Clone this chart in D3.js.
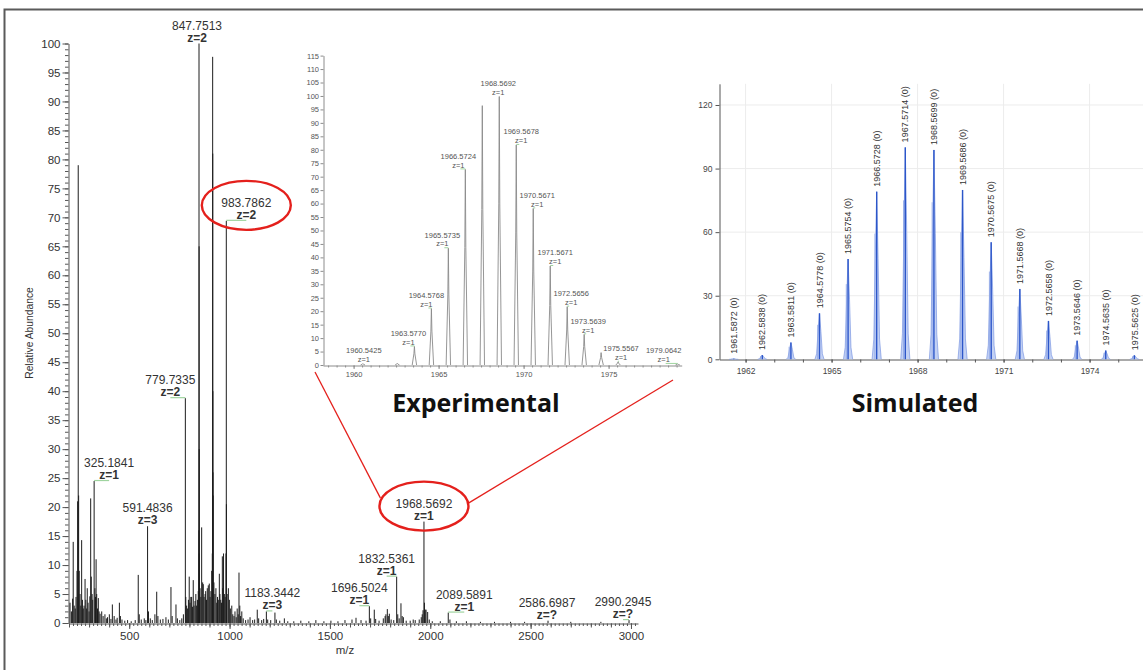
<!DOCTYPE html>
<html>
<head>
<meta charset="utf-8">
<script src="https://cdn.jsdelivr.net/npm/d3@7"></script>
<style>
  html, body { margin: 0; padding: 0; background: #fff; }
  svg { display: block; }
  text { font-family: "Liberation Sans", Arial, sans-serif; }
</style>
</head>
<body>
<svg id="fig" width="1143" height="670"></svg>
<script>
// ---------- Full-scan spectrum (m/z, relative abundance) ----------
const mainMz = [
  205, 212, 218, 221, 226, 231, 235, 240, 243, 246, 248, 251, 255, 259, 263, 267, 271, 275, 280, 284,
  288, 291, 295, 300, 304, 308, 311, 315, 318, 325.1841, 329, 332, 335, 338, 342, 346, 350, 355, 363, 370,
  379, 386, 392, 401, 409, 416, 425, 434, 440, 451, 456, 464,
  478, 492, 510, 530, 545, 550, 560, 575, 583, 591.4836, 596, 605, 615, 628, 637, 643, 655, 668,
  683, 695, 708, 714, 733, 740, 752, 762, 770,
  779.7335, 782, 786, 790, 795, 799, 803, 807, 811, 815, 819, 823, 828, 832, 836, 840, 844, 847.25, 847.7513, 848.25,
  848.75, 849.25, 853, 857, 861, 866, 869, 873, 878, 881, 885, 889, 894, 899, 903, 907, 911, 914, 915.8, 916.3,
  916.8, 917.3, 918, 922, 927, 932, 936, 940, 944, 949, 952, 956, 960, 964, 966, 970, 974, 978, 982.3, 983.7862,
  984.29, 984.8, 988, 994, 999, 1004, 1011, 1016, 1022, 1027, 1033, 1038, 1043, 1047, 1051, 1055, 1061, 1068, 1080, 1092,
  1102, 1115, 1125, 1138, 1145, 1160, 1170, 1183.3442, 1190, 1205, 1226, 1233, 1250, 1273, 1290,
  1320, 1355, 1395, 1430, 1470, 1505, 1540, 1575, 1610, 1630, 1655, 1680, 1696.5024, 1703, 1721, 1728, 1745, 1766, 1775, 1779,
  1786, 1791, 1796, 1805, 1818, 1832.5361, 1838, 1845, 1854, 1860, 1866, 1880, 1900, 1915, 1925, 1945, 1955, 1960, 1964, 1968.5692,
  1971, 1975, 1979, 1987, 1995, 2010, 2050, 2089.5891, 2098, 2130, 2180, 2250, 2320, 2400, 2470, 2586.6987, 2700, 2850, 2990.2945
];
const mainAbund = [
  3.5, 2, 4.2, 14, 3, 2.5, 4.5, 9, 21, 79, 22, 9, 5, 3, 14.3, 4, 2.5, 3, 7.6, 4,
  2.5, 6, 3.5, 2, 4.6, 21.5, 8, 5, 4, 24.5, 6, 4.5, 11, 5, 2.5, 4.3, 2, 1.6, 2, 1.2,
  1.5, 0.8, 1, 1.5, 0.7, 3.2, 1.2, 0.6, 0.9, 3.5, 1.2, 0.6,
  0.4, 0.5, 0.3, 0.5, 8.3, 1.5, 0.6, 0.8, 0.5, 16.7, 2, 0.8, 0.5, 1.5, 5.4, 1.2, 0.6, 0.7,
  1, 0.6, 6.2, 1.2, 3.2, 0.8, 0.5, 0.8, 1.5,
  38.8, 4.5, 3, 2.5, 4, 8, 3.5, 4.5, 4.5, 2.8, 7.4, 3, 3.8, 5, 3, 4, 5.5, 16, 100, 65,
  30, 12, 6, 4.5, 16.5, 7, 6.7, 4.5, 5, 5.5, 4, 6, 6.5, 6.8, 4.5, 5.5, 9, 12, 97.7, 81,
  40, 26, 22, 7, 5, 6, 3.5, 4.5, 4, 8.5, 5, 4, 3.5, 11.5, 6, 12, 5, 4.5, 12, 69.4,
  20.5, 9, 5, 6, 4, 2.5, 3, 1.5, 1.2, 2, 1, 2.5, 1.5, 8.7, 3, 1.2, 2, 0.8, 0.5, 0.6,
  1, 0.5, 0.6, 2.3, 0.8, 0.5, 0.7, 2, 0.6, 0.5, 1.8, 0.6, 0.4, 0.8, 0.3,
  0.3, 0.4, 0.3, 0.5, 0.3, 0.4, 0.3, 0.5, 0.6, 0.9, 0.5, 0.4, 2.9, 0.8, 2.3, 0.7, 0.4, 0.8, 1.2, 1.5,
  2.4, 1.2, 1.6, 0.6, 0.5, 8.0, 1.5, 0.8, 3.4, 1.2, 1.0, 0.4, 0.4, 0.6, 0.5, 0.6, 1.0, 1.5, 2.2, 17.5,
  3.5, 2.3, 2.3, 1.9, 0.6, 0.3, 0.3, 1.8, 0.6, 0.3, 0.3, 0.2, 0.2, 0.2, 0.2, 0.4, 0.2, 0.2, 0.5
];
// annotated peaks of the full scan
const mainLabelMz = [325.1841, 591.4836, 779.7335, 847.7513, 983.7862, 1183.3442, 1696.5024, 1832.5361, 1968.5692, 2089.5891, 2586.6987, 2990.2945];
const mainLabelZ  = ["z=1", "z=3", "z=2", "z=2", "z=2", "z=3", "z=1", "z=1", "z=1", "z=1", "z=?", "z=?"];
const mainCircled = [983.7862, 1968.5692];
const mainTicks = [500, 1000, 1500, 2000, 2500, 3000];

// ---------- Experimental isotope cluster ----------
const expMz  = [1960.5425, 1962.57, 1963.5770, 1964.5768, 1965.5735, 1966.5724, 1967.5705, 1968.5692, 1969.5678, 1970.5671, 1971.5671, 1972.5656, 1973.5639, 1974.56, 1975.5567, 1979.0642];
const expInt = [0.5, 0.6, 6.9, 21, 43.4, 72.7, 96.4, 99.8, 81.8, 58.2, 36.8, 21.7, 11.4, 4.6, 1.2, 0.4];
const expLabelMz = [1960.5425, 1963.5770, 1964.5768, 1965.5735, 1966.5724, 1968.5692, 1969.5678, 1970.5671, 1971.5671, 1972.5656, 1973.5639, 1975.5567, 1979.0642];
const expYTicks = d3.range(0, 116, 5);
const expXTicks = [1960, 1965, 1970, 1975];

// ---------- Simulated isotope pattern ----------
const simMz  = [1961.5872, 1962.5838, 1963.5811, 1964.5778, 1965.5754, 1966.5728, 1967.5714, 1968.5699, 1969.5686, 1970.5675, 1971.5668, 1972.5658, 1973.5646, 1974.5635, 1975.5625];
const simInt = [0.3, 2.0, 7.9, 21.7, 47.3, 79.1, 100, 98.8, 79.9, 55.2, 33.2, 18.1, 8.8, 4.1, 1.9];
const simYTicks = [0, 30, 60, 90, 120];
const simXTicks = [1962, 1965, 1968, 1971, 1974];

// ---------- layout ----------
const svg = d3.select("#fig");
svg.append("rect").attr("width", 1143).attr("height", 670).attr("fill", "#fff");

// outer frame
svg.append("path").attr("d", "M4.5,670 V9.5 H1143")
  .attr("fill", "none").attr("stroke", "#5a5a5a").attr("stroke-width", 2);

// ===== full scan =====
const x = d3.scaleLinear().domain([200, 3035]).range([69, 638]);
const y = d3.scaleLinear().domain([0, 100]).range([623, 43.5]);

const gMain = svg.append("g");

// minor / major y ticks
gMain.append("g").attr("transform", "translate(68.5,0)")
  .call(d3.axisLeft(y).tickValues(d3.range(0, 101, 1)).tickSize(3.5).tickSizeOuter(0).tickFormat(""))
  .call(g => g.select(".domain").remove());
const yAx = gMain.append("g").attr("transform", "translate(68.5,0)")
  .call(d3.axisLeft(y).tickValues(d3.range(0, 101, 5)).tickSize(6).tickSizeOuter(0).tickPadding(2));
// x ticks
gMain.append("g").attr("transform", "translate(0,623.5)")
  .call(d3.axisBottom(x).tickValues(d3.range(200, 3035, 20)).tickSize(2.5).tickSizeOuter(0).tickFormat(""))
  .call(g => g.select(".domain").remove());
gMain.append("g").attr("transform", "translate(0,623.5)")
  .call(d3.axisBottom(x).tickValues(d3.range(200, 3035, 100)).tickSize(4).tickSizeOuter(0).tickFormat(""))
  .call(g => g.select(".domain").remove());
const xAx = gMain.append("g").attr("transform", "translate(0,623.5)")
  .call(d3.axisBottom(x).tickValues(mainTicks).tickSize(5.5).tickSizeOuter(0).tickPadding(3).tickFormat(d3.format("d")));

gMain.selectAll(".domain, .tick line").attr("stroke", "#555");
gMain.selectAll(".tick text").attr("fill", "#333").style("font-size", "11.5px")
  .style("font-family", "'Liberation Sans', Arial, sans-serif");

// sticks
gMain.append("g").selectAll("line").data(mainMz.map((m, i) => [m, mainAbund[i]])).join("line")
  .attr("x1", d => x(d[0])).attr("x2", d => x(d[0]))
  .attr("y1", y(0)).attr("y2", d => y(d[1]))
  .attr("stroke", "#1c1c1c").attr("stroke-width", 1);

// axis titles
gMain.append("text").attr("transform", "translate(33,333) rotate(-90)")
  .attr("text-anchor", "middle").attr("fill", "#333").style("font-size", "10.3px")
  .text("Relative Abundance");
gMain.append("text").attr("x", 345).attr("y", 654)
  .attr("text-anchor", "middle").attr("fill", "#333").style("font-size", "11.5px").text("m/z");

// peak annotations: horizontal offset of each label from its stick (px)
const mainLabelDx = [15, 0, -15, -2, 20, 6, -10, -10, 0, 16, -1, -6];
const abundAt = m => mainAbund[mainMz.indexOf(m)];
mainLabelMz.forEach((m, i) => {
  const px = x(m), top = y(abundAt(m)), lx = px + mainLabelDx[i];
  if (Math.abs(mainLabelDx[i]) > 2) {
    gMain.append("line").attr("x1", px).attr("x2", lx).attr("y1", top - 0.5).attr("y2", top - 0.5)
      .attr("stroke", "#9fd49f").attr("stroke-width", 1.2);
  }
  gMain.append("text").attr("x", lx).attr("y", top - 14).attr("text-anchor", "middle")
    .attr("fill", "#333").style("font-size", "12px").text(m.toFixed(4));
  gMain.append("text").attr("x", lx).attr("y", top - 2).attr("text-anchor", "middle")
    .attr("fill", "#333").style("font-size", "12px").style("font-weight", "bold").text(mainLabelZ[i]);
});

// red ellipses around highlighted annotations
const ellipses = mainCircled.map(m => {
  const i = mainLabelMz.indexOf(m);
  return { cx: x(m) + mainLabelDx[i], cy: y(abundAt(m)) - 15.5, rx: 44.5, ry: 24.5 };
});
ellipses.forEach(e => {
  svg.append("ellipse").attr("cx", e.cx).attr("cy", e.cy).attr("rx", e.rx).attr("ry", e.ry)
    .attr("fill", "none").attr("stroke", "#e4201c").attr("stroke-width", 2.4);
});

// ===== experimental inset =====
const ex = d3.scaleLinear().domain([1958.2, 1979.3]).range([323, 681.7]);
const ey = d3.scaleLinear().domain([0, 115]).range([365, 55.6]);
const gExp = svg.append("g");

// zoom guide lines from the circled peak to the inset
const e2 = ellipses[1];
svg.append("line").attr("x1", e2.cx - 43.5).attr("y1", e2.cy - 8).attr("x2", 315).attr("y2", 372)
  .attr("stroke", "#e4201c").attr("stroke-width", 1.3);
svg.append("line").attr("x1", e2.cx + e2.rx).attr("y1", e2.cy - 3).attr("x2", 673).attr("y2", 380)
  .attr("stroke", "#e4201c").attr("stroke-width", 1.3);

gExp.append("g").attr("transform", "translate(323.5,0)")
  .call(d3.axisLeft(ey).tickValues(expYTicks).tickSize(3).tickSizeOuter(0).tickPadding(1.5));
gExp.append("g").attr("transform", "translate(0,365.5)")
  .call(d3.axisBottom(ex).tickValues(d3.range(1958.5, 1979.3, 0.5)).tickSize(2).tickSizeOuter(0).tickFormat(""))
  .call(g => g.select(".domain").remove());
gExp.append("g").attr("transform", "translate(0,365.5)")
  .call(d3.axisBottom(ex).tickValues(expXTicks).tickSize(3.5).tickSizeOuter(0).tickPadding(3).tickFormat(d3.format("d")));
gExp.selectAll(".domain, .tick line").attr("stroke", "#8c8c8c");
gExp.selectAll(".tick text").attr("fill", "#555").style("font-size", "7.5px")
  .style("font-family", "'Liberation Sans', Arial, sans-serif");

const expPath = d3.line().x(d => ex(d[0])).y(d => ey(d[1]));
gExp.append("g").selectAll("path").data(expMz.map((m, i) => [m, expInt[i]])).join("path")
  .attr("d", d => expPath([[d[0] - 0.13, 0], [d[0] - 0.03, d[1] * 0.6], [d[0], d[1]], [d[0] + 0.03, d[1] * 0.6], [d[0] + 0.13, 0]]))
  .attr("fill", "none").attr("stroke", "#8a8a8a").attr("stroke-width", 0.9);

const expLabelDx = [1, -6, -5, -6, -7, -1, 5, 4, 5, 4, 4, 3, -14];
expLabelMz.forEach((m, i) => {
  const px = ex(m), top = ey(expInt[expMz.indexOf(m)]), lx = px + expLabelDx[i];
  if (Math.abs(expLabelDx[i]) > 2) {
    gExp.append("line").attr("x1", px).attr("x2", lx + (expLabelDx[i] < 0 ? 2 : -2))
      .attr("y1", top - 0.5).attr("y2", top - 0.5).attr("stroke", "#9fd49f").attr("stroke-width", 1);
  }
  gExp.append("text").attr("x", lx).attr("y", top - 10.5).attr("text-anchor", "middle")
    .attr("fill", "#555").style("font-size", "7.5px").text(m.toFixed(4));
  gExp.append("text").attr("x", lx).attr("y", top - 1.8).attr("text-anchor", "middle")
    .attr("fill", "#555").style("font-size", "7.5px").text("z=1");
});

// ===== simulated pattern =====
const sx = d3.scaleLinear().domain([1961.09, 1976.02]).range([719.5, 1147.5]);
const sy = d3.scaleLinear().domain([0, 130]).range([359.3, 83.8]);
const gSim = svg.append("g");

gSim.append("g").selectAll("line.vg").data(simXTicks).join("line")
  .attr("x1", d => sx(d)).attr("x2", d => sx(d)).attr("y1", sy(130)).attr("y2", sy(0))
  .attr("stroke", "#ececec").attr("stroke-width", 1);
gSim.append("g").selectAll("line.hg").data(simYTicks.slice(1)).join("line")
  .attr("x1", sx.range()[0]).attr("x2", 1143).attr("y1", d => sy(d)).attr("y2", d => sy(d))
  .attr("stroke", "#ececec").attr("stroke-width", 1);

gSim.append("g").attr("transform", "translate(719.5,0)")
  .call(d3.axisLeft(sy).tickValues(simYTicks).tickSize(4).tickSizeOuter(0).tickPadding(3));
gSim.append("g").attr("transform", "translate(0,359.5)")
  .call(d3.axisBottom(sx).tickValues(d3.range(1962, 1976, 1)).tickSize(3).tickSizeOuter(0).tickFormat(""))
  .call(g => g.select(".domain").remove());
gSim.append("g").attr("transform", "translate(0,359.5)")
  .call(d3.axisBottom(sx).tickValues(simXTicks).tickSize(3).tickSizeOuter(0).tickPadding(5).tickFormat(d3.format("d")));
gSim.selectAll(".domain, .tick line").attr("stroke", "#555");
gSim.selectAll(".tick text").attr("fill", "#444").style("font-size", "8.5px")
  .style("font-family", "'Liberation Sans', Arial, sans-serif");

const simPath = d3.line().x(d => sx(d[0])).y(d => sy(d[1]));
const simData = simMz.map((m, i) => [m, simInt[i]]);
const gPk = gSim.append("g");
gPk.selectAll("path").data(simData).join("path")
  .attr("d", d => simPath([[d[0] - 0.16, 0], [d[0] - 0.1, d[1] * 0.12], [d[0] - 0.05, d[1] * 0.6], [d[0], d[1]],
                           [d[0] + 0.05, d[1] * 0.6], [d[0] + 0.1, d[1] * 0.12], [d[0] + 0.16, 0]]))
  .attr("fill", "#c3d1f4").attr("stroke", "#7d98e2").attr("stroke-width", 0.7);
gPk.selectAll("line.in").data(simData).join("line")
  .attr("x1", d => sx(d[0]) - 1.8).attr("x2", d => sx(d[0]) - 1.8)
  .attr("y1", sy(0)).attr("y2", d => sy(d[1] * 0.75))
  .attr("stroke", "#8aa3e6").attr("stroke-width", 0.8);
gPk.selectAll("line.c").data(simData).join("line")
  .attr("x1", d => sx(d[0])).attr("x2", d => sx(d[0]))
  .attr("y1", sy(0)).attr("y2", d => sy(d[1]))
  .attr("stroke", "#2c56c9").attr("stroke-width", 1.4);

gSim.append("g").selectAll("text").data(simData).join("text")
  .attr("transform", d => `translate(${sx(d[0])},${sy(d[1]) - 5}) rotate(-90)`)
  .attr("dy", "0.35em").attr("fill", "#333").style("font-size", "9px")
  .text(d => `${d[0].toFixed(4)} (0)`);

// ===== panel captions =====
svg.append("text").attr("x", 476).attr("y", 412).attr("text-anchor", "middle")
  .style("font-family", "'Open Sans', sans-serif").style("font-weight", "bold").style("font-size", "25px")
  .attr("fill", "#111").text("Experimental");
svg.append("text").attr("x", 915).attr("y", 412).attr("text-anchor", "middle")
  .style("font-family", "'Open Sans', sans-serif").style("font-weight", "bold").style("font-size", "25px")
  .attr("fill", "#111").text("Simulated");
</script>
</body>
</html>
